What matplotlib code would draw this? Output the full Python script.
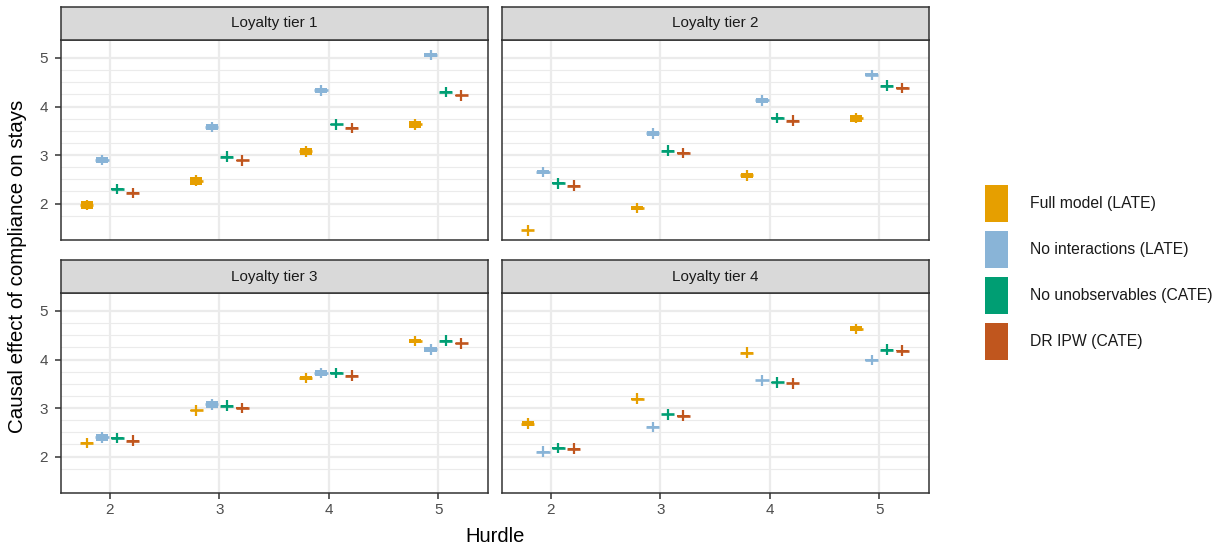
import matplotlib
matplotlib.use("Agg")
import matplotlib.pyplot as plt
from matplotlib.patches import Rectangle
import numpy as np

plt.rcParams['font.family'] = ['Liberation Sans', 'DejaVu Sans']

hurdles = [2, 3, 4, 5]
tiers = ["Loyalty tier 1", "Loyalty tier 2", "Loyalty tier 3", "Loyalty tier 4"]
methods = ["Full model (LATE)", "No interactions (LATE)",
           "No unobservables (CATE)", "DR IPW (CATE)"]
colors = ['#E69F00', '#89B4D7', '#009E73', '#C0561E']

# estimates[tier][method] over hurdles 2..5
full_model = [[1.97, 2.47, 3.08, 3.63],
              [1.45, 1.91, 2.58, 3.76],
              [2.28, 2.95, 3.62, 4.38],
              [2.68, 3.19, 4.14, 4.63]]
no_interactions = [[2.90, 3.58, 4.33, 5.06],
                   [2.65, 3.45, 4.13, 4.65],
                   [2.40, 3.08, 3.72, 4.21],
                   [2.10, 2.61, 3.57, 3.99]]
no_unobservables = [[2.30, 2.97, 3.63, 4.30],
                    [2.42, 3.09, 3.76, 4.43],
                    [2.38, 3.05, 3.72, 4.39],
                    [2.18, 2.87, 3.53, 4.20]]
dr_ipw = [[2.22, 2.89, 3.56, 4.23],
          [2.37, 3.04, 3.71, 4.38],
          [2.33, 3.00, 3.67, 4.33],
          [2.16, 2.84, 3.51, 4.18]]

# interval half-heights of the bars (box) per tier/method/hurdle
full_model_box = [[0.09, 0.08, 0.07, 0.07],
                  [0.015, 0.04, 0.05, 0.07],
                  [0.015, 0.015, 0.04, 0.05],
                  [0.05, 0.015, 0.015, 0.05]]
no_interactions_box = [[0.06, 0.06, 0.06, 0.05],
                       [0.05, 0.05, 0.05, 0.03],
                       [0.07, 0.07, 0.07, 0.05],
                       [0.015, 0.015, 0.015, 0.015]]
no_unobservables_box = [[0.015] * 4] * 4
dr_ipw_box = [[0.015] * 4] * 4

series = [full_model, no_interactions, no_unobservables, dr_ipw]
boxes = [full_model_box, no_interactions_box, no_unobservables_box, dr_ipw_box]
offsets = [-0.21, -0.07, 0.07, 0.21]

W, H = 1223, 550
fig = plt.figure(figsize=(W / 100, H / 100), dpi=100)

def fx(px):
    return px / W

def fy(py):
    return 1 - py / H

panels = [
    (61, 488, 40, 240, 7),
    (502, 929, 40, 240, 7),
    (61, 488, 293, 493, 260),
    (502, 929, 293, 493, 260),
]

edge = '#333333'
grid = '#EBEBEB'

for i, (l, r, t, b, st) in enumerate(panels):
    ax = fig.add_axes([fx(l), fy(b), fx(r - l), (b - t) / H])
    ax.set_xlim(1.555, 5.455)
    ax.set_ylim(1.25, 5.37)
    # grid
    for yv in np.arange(1.75, 5.05, 0.25):
        major = abs(yv - round(yv)) < 1e-6
        ax.axhline(yv, color=grid, lw=1.6 if major else 0.8, zorder=0)
    for xv in hurdles:
        ax.axvline(xv, color=grid, lw=1.6, zorder=0)
    for m in range(4):
        xs = np.array(hurdles) + offsets[m]
        ys = np.array(series[m][i])
        hb = np.array(boxes[m][i])
        ax.bar(xs, 2 * hb, bottom=ys - hb, width=0.11, color=colors[m],
               edgecolor='none', zorder=3)
        ax.vlines(xs, ys - 0.11, ys + 0.11, color=colors[m], lw=1.6, zorder=3)
        ax.hlines(ys, xs - 0.06, xs + 0.06, color=colors[m], lw=1.9, zorder=3)
    for sp in ax.spines.values():
        sp.set_color(edge)
        sp.set_linewidth(1.1)
    ax.set_xticks(hurdles)
    ax.set_yticks([2, 3, 4, 5])
    ax.tick_params(colors=edge, length=4.5, width=1.1, labelsize=11,
                   labelcolor='#4D4D4D')
    ax.tick_params(axis='y', pad=5)
    ax.tick_params(axis='x', pad=2.5)
    if i < 2:
        ax.tick_params(axis='x', length=0, labelbottom=False)
    if i % 2 == 1:
        ax.tick_params(axis='y', length=0, labelleft=False)
    # strip
    sax = fig.add_axes([fx(l), fy(t), fx(r - l), (t - st) / H])
    sax.set_facecolor('#D9D9D9')
    sax.set_xticks([])
    sax.set_yticks([])
    for sp in sax.spines.values():
        sp.set_color(edge)
        sp.set_linewidth(1.1)
    sax.text(0.5, 0.5, tiers[i], ha='center', va='center', fontsize=11,
             color='#1A1A1A', transform=sax.transAxes)

fig.text(fx(495), fy(537), "Hurdle", ha='center', va='center', fontsize=14.5,
         color='black')
fig.text(fx(18), fy(266), "Causal effect of compliance on stays", ha='center',
         va='center', rotation=90, fontsize=14.8, color='black')

# legend
key_tops = [185, 231, 277, 323]
for m in range(4):
    kt = key_tops[m]
    fig.add_artist(Rectangle((fx(985), fy(kt + 37)), fx(23), 37 / H,
                             facecolor=colors[m], edgecolor='none',
                             transform=fig.transFigure))
    fig.text(fx(1030), fy(kt + 18.5), methods[m], ha='left', va='center',
             fontsize=11.3, color='#1A1A1A')

fig.savefig("out.png", dpi=100)
